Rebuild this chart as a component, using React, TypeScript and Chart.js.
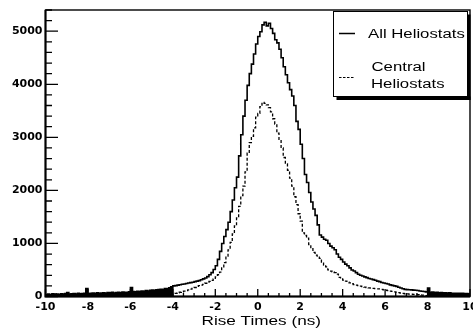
import React, { useEffect, useRef } from "react";
import { Chart, registerables } from "chart.js";

Chart.register(...registerables);

// ---- axis / binning ----
const X_MIN = -10;
const X_MAX = 10;
const Y_MIN = 0;
const Y_MAX = 5400;
const BIN_WIDTH = 0.1;
const xTickValues = [-10, -8, -6, -4, -2, 0, 2, 4, 6, 8, 10];
const yTickValues = [0, 1000, 2000, 3000, 4000, 5000];
const axisTitle = "Rise Times (ns)";
const legendAll = "All Heliostats";
const legendCentral = ["Central", "Heliostats"];

// ---- All Heliostats (bins of 0.1 ns) ----
// -10.0 .. -4.0 (noisy tail)
const ALL_LEFT_START = -10;
const allLeftTail = [
  35, 45, 30, 50, 40, 45, 35, 50, 45, 55,
  75, 45, 50, 55, 45, 60, 50, 55, 60, 150,
  55, 60, 65, 55, 70, 60, 65, 70, 60, 75,
  70, 80, 65, 75, 80, 70, 85, 80, 75, 90,
  170, 95, 90, 100, 95, 105, 100, 110, 105, 115,
  120, 115, 125, 130, 135, 130, 150, 145, 165, 185,
];
// -4.0 .. 8.0
const ALL_CORE_START = -4;
const allCore = [
  200, 205, 215, 222, 230, 235, 245, 255, 262, 270,
  280, 290, 300, 315, 332, 350, 375, 410, 450, 510,
  580, 700, 850, 1000, 1130, 1260, 1400, 1600, 1820, 2050,
  2250, 2650, 3050, 3400, 3700, 3980, 4200, 4380, 4570, 4760,
  4900, 4990, 5120, 5170, 5100, 5150, 5050, 4960, 4840, 4780,
  4660, 4500, 4330, 4180, 4030, 3900, 3780, 3600, 3300, 3150,
  2870, 2600, 2300, 2150, 1960, 1780, 1650, 1530, 1350, 1160,
  1120, 1080, 1060, 1000, 950, 920, 880, 800, 740, 700,
  650, 610, 580, 540, 500, 480, 450, 420, 400, 385,
  370, 355, 340, 330, 318, 305, 290, 280, 265, 255,
  245, 235, 220, 210, 200, 190, 175, 160, 145, 135,
  130, 128, 125, 120, 118, 112, 105, 100, 95, 88,
];
// 8.0 .. 10.0 (noisy tail)
const ALL_RIGHT_START = 8;
const allRightTail = [
  160, 80, 85, 75, 78, 70, 75, 68, 70, 65,
  68, 62, 62, 60, 60, 58, 58, 55, 55, 50,
];

// ---- Central Heliostats (bins of 0.1 ns, from -4.0 to 8.0) ----
const CENTRAL_START = -4;
const centralCounts = [
  50, 60, 70, 80, 90, 100, 110, 125, 140, 155,
  170, 190, 205, 215, 230, 250, 265, 285, 305, 330,
  370, 410, 460, 540, 640, 760, 880, 1020, 1180, 1330,
  1480, 1700, 1900, 2080, 2350, 2700, 2900, 3020, 3180, 3380,
  3450, 3580, 3660, 3640, 3610, 3560, 3480, 3350, 3250, 3080,
  2960, 2800, 2620, 2500, 2380, 2230, 2080, 1880, 1730, 1560,
  1420, 1200, 1150, 1100, 980, 900, 830, 780, 740, 720,
  650, 590, 560, 500, 480, 465, 450, 420, 360, 330,
  310, 290, 270, 255, 240, 225, 215, 205, 195, 185,
  175, 168, 162, 158, 152, 148, 145, 142, 135, 125,
  118, 110, 100, 95, 88, 80, 72, 65, 58, 52,
  48, 45, 42, 40, 38, 34, 30, 26, 22, 18,
];

function histPoints(start: number, counts: number[], before: number | null, dropToZero: boolean) {
  const pts: { x: number; y: number }[] = [];
  if (before !== null) pts.push({ x: start, y: before });
  counts.forEach((c, i) => pts.push({ x: start + i * BIN_WIDTH, y: c }));
  const end = start + counts.length * BIN_WIDTH;
  pts.push({ x: end, y: counts[counts.length - 1] });
  if (dropToZero) pts.push({ x: end, y: 0 });
  return pts;
}

const TICK_FONT = { family: "'DejaVu Sans'", size: 11, weight: "bold" as const };

function drawStretched(ctx: CanvasRenderingContext2D, text: string, x: number, y: number, sx: number) {
  ctx.save();
  ctx.translate(x, y);
  ctx.scale(sx, 1);
  ctx.fillText(text, 0, 0);
  ctx.restore();
}

function noScalePadding(s: any) {
  s.paddingLeft = 0;
  s.paddingRight = 0;
  s.paddingTop = 0;
  s.paddingBottom = 0;
}

const rootPlugin = {
  id: "rootFrame",
  afterDraw(chart: any) {
    const { ctx, chartArea: a, scales } = chart;
    const xs = scales.x;
    const ys = scales.y;
    ctx.save();
    ctx.strokeStyle = "#000";
    ctx.fillStyle = "#000";

    // inward tick marks
    ctx.lineWidth = 1.3;
    ctx.beginPath();
    for (let k = 0; k <= 27; k++) {
      const v = k * 200;
      const py = ys.getPixelForValue(v);
      const len = v % 1000 === 0 ? 12.5 : 6.5;
      ctx.moveTo(a.left, py);
      ctx.lineTo(a.left + len, py);
    }
    for (let k = 0; k <= 40; k++) {
      const v = X_MIN + k * 0.5;
      const px = xs.getPixelForValue(v);
      const len = v % 2 === 0 ? 7.5 : 3.5;
      ctx.moveTo(px, a.bottom);
      ctx.lineTo(px, a.bottom - len);
    }
    ctx.stroke();

    // frame
    ctx.lineWidth = 1.4;
    ctx.strokeRect(a.left, a.top, a.right - a.left, a.bottom - a.top);
    ctx.lineWidth = 2;
    ctx.beginPath();
    ctx.moveTo(a.left, a.top);
    ctx.lineTo(a.left, a.bottom);
    ctx.lineTo(a.right, a.bottom);
    ctx.stroke();

    // legend box with shadow
    const bx = 333.5, by = 11.5, bw = 134, bh = 85;
    ctx.fillRect(bx + 3, by + bh, bw, 3.5);
    ctx.fillRect(bx + bw, by + 3, 3, bh + 0.5);
    ctx.fillStyle = "#fff";
    ctx.fillRect(bx, by, bw, bh);
    ctx.fillStyle = "#000";
    ctx.lineWidth = 1;
    ctx.strokeRect(bx, by, bw, bh);

    ctx.lineWidth = 1.5;
    ctx.beginPath();
    ctx.moveTo(339, 33.5);
    ctx.lineTo(355, 33.5);
    ctx.stroke();
    ctx.save();
    ctx.lineWidth = 1.2;
    ctx.setLineDash([2.5, 1.5]);
    ctx.beginPath();
    ctx.moveTo(339, 77.5);
    ctx.lineTo(355, 77.5);
    ctx.stroke();
    ctx.restore();

    ctx.font = "12.5px 'Liberation Sans'";
    ctx.textBaseline = "alphabetic";
    ctx.textAlign = "left";
    drawStretched(ctx, legendAll, 368, 37.5, 1.34);
    drawStretched(ctx, legendCentral[0], 371.5, 70.8, 1.34);
    drawStretched(ctx, legendCentral[1], 371, 87.5, 1.34);

    // axis title
    ctx.font = "13px 'Liberation Sans'";
    drawStretched(ctx, axisTitle, 201.5, 324.5, 1.32);

    ctx.restore();
  },
};

export default function App() {
  const canvasRef = useRef<HTMLCanvasElement | null>(null);

  useEffect(() => {
    document.body.style.margin = "0";
    const canvas = canvasRef.current;
    if (!canvas) return;
    const lineBase = {
      stepped: true,
      borderColor: "#000",
      borderWidth: 1.6,
      pointRadius: 0,
    };
    const chart = new Chart(canvas, {
      type: "line",
      data: {
        datasets: [
          {
            ...lineBase,
            label: legendAll + " (tail)",
            data: histPoints(ALL_LEFT_START, allLeftTail, null, true),
            fill: "origin",
            backgroundColor: "#000",
          },
          {
            ...lineBase,
            label: legendAll,
            data: histPoints(ALL_CORE_START, allCore, allLeftTail[allLeftTail.length - 1], false),
            fill: false,
          },
          {
            ...lineBase,
            label: legendAll + " (tail 2)",
            data: histPoints(ALL_RIGHT_START, allRightTail, allCore[allCore.length - 1], true),
            fill: "origin",
            backgroundColor: "#000",
          },
          {
            ...lineBase,
            label: legendCentral.join(" "),
            data: histPoints(CENTRAL_START, centralCounts, 0, true),
            borderWidth: 1.3,
            borderDash: [3, 2],
            fill: false,
          },
        ],
      },
      options: {
        animation: false,
        responsive: false,
        devicePixelRatio: 1,
        layout: { padding: { top: 10, right: 3, left: 0, bottom: 0 }, autoPadding: false },
        plugins: { legend: { display: false }, tooltip: { enabled: false } },
        scales: {
          x: {
            type: "linear",
            min: X_MIN,
            max: X_MAX,
            grid: { display: false, drawTicks: false },
            border: { display: false },
            afterBuildTicks: (s: any) => {
              s.ticks = xTickValues.map((v) => ({ value: v }));
            },
            afterFit: (s: any) => {
              s.height = 34.5;
              noScalePadding(s);
            },
            ticks: {
              color: "#000",
              font: TICK_FONT,
              padding: 4,
              maxRotation: 0,
              autoSkip: false,
              callback: (v: any) => String(v),
            },
          },
          y: {
            type: "linear",
            min: Y_MIN,
            max: Y_MAX,
            grid: { display: false, drawTicks: false },
            border: { display: false },
            afterBuildTicks: (s: any) => {
              s.ticks = yTickValues.map((v) => ({ value: v }));
            },
            afterFit: (s: any) => {
              s.width = 45.5;
              noScalePadding(s);
            },
            ticks: {
              color: "#000",
              font: TICK_FONT,
              padding: 3,
              autoSkip: false,
              callback: (v: any) => String(v),
            },
          },
        },
      },
      plugins: [rootPlugin],
    });
    return () => chart.destroy();
  }, []);

  return (
    <div style={{ width: 473, height: 331 }}>
      <canvas ref={canvasRef} width={473} height={331} style={{ display: "block", width: 473, height: 331 }} />
    </div>
  );
}
